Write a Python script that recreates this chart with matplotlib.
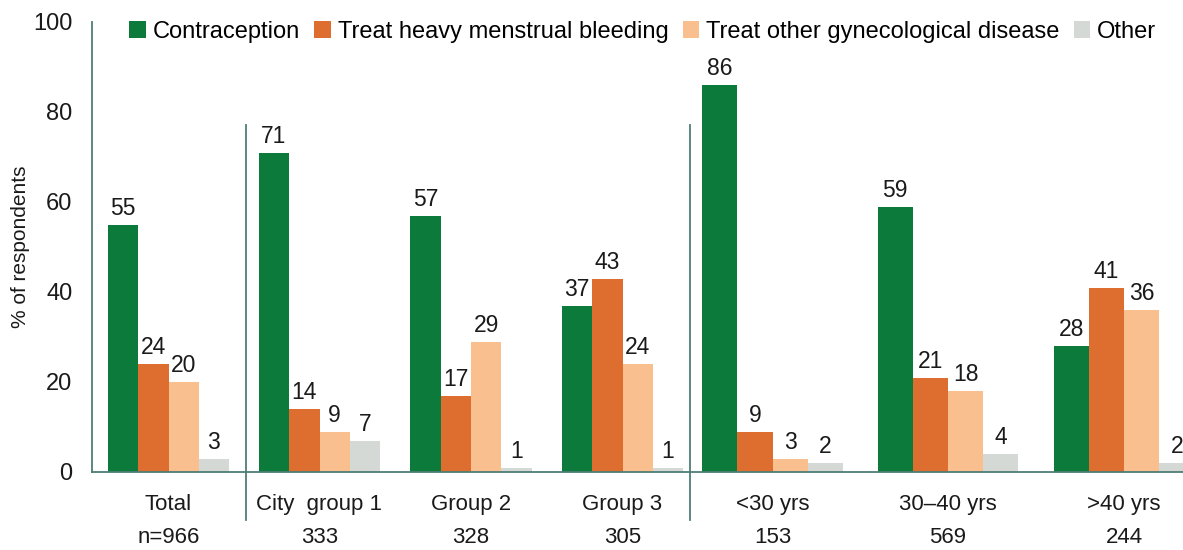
import numpy as np
import matplotlib.pyplot as plt
from matplotlib.patches import Patch

plt.rcParams['font.family'] = ['Liberation Sans', 'DejaVu Sans']

# data
groups = ["Total", "City  group 1", "Group 2", "Group 3", "<30 yrs", "30\u201340 yrs", ">40 yrs"]
counts = ["n=966", "333", "328", "305", "153", "569", "244"]
series = ["Contraception", "Treat heavy menstrual bleeding",
          "Treat other gynecological disease", "Other"]
contraception = [55, 71, 57, 37, 86, 59, 28]
heavy_bleeding = [24, 14, 17, 43, 9, 21, 41]
other_gyn = [20, 9, 29, 24, 3, 18, 36]
other = [3, 7, 1, 1, 2, 4, 2]
values = [contraception, heavy_bleeding, other_gyn, other]

# layout (pixel-like x units)
centers = [168.5, 319.5, 471, 622.5, 772.5, 948, 1124]
widths = [30.3, 30.3, 30.3, 30.3, 35.2, 35.2, 35.2]
colors = ["#0b7a3b", "#de6e2f", "#f9bf8e", "#d4d9d5"]
axis_col = "#4e7d76"
txt = "#1a1a1a"

W, H = 1183, 550
fig = plt.figure(figsize=(W / 100, H / 100), dpi=100)
ax = fig.add_axes([92 / W, (H - 472) / H, (W - 92) / W, (472 - 22) / H])

for s in range(4):
    for g in range(len(groups)):
        w = widths[g]
        x = centers[g] + (s - 1.5) * w
        v = values[s][g]
        ax.bar(x, v, width=w, color=colors[s], edgecolor="none")
        ax.annotate(str(v), (x, v), xytext=(0, 3.5), textcoords="offset points",
                    ha="center", va="bottom", fontsize=16.5, color=txt,
                    annotation_clip=False)

for g in range(len(groups)):
    ax.text(centers[g], -7.3, groups[g], ha="center", va="center", fontsize=16, color=txt)
    ax.text(centers[g], -14.5, counts[g], ha="center", va="center", fontsize=16, color=txt)

for xs in [246, 690]:
    ax.plot([xs, xs], [77.1, -10.7], color=axis_col, lw=1.3, clip_on=False)

ax.set_xlim(92, W)
ax.set_ylim(0, 100)
ax.set_yticks([0, 20, 40, 60, 80, 100])
ax.set_xticks([])
ax.tick_params(axis="y", length=0, pad=14, labelsize=17, labelcolor=txt)
ax.set_ylabel("% of respondents", fontsize=15, color=txt)
ax.yaxis.set_label_coords(-0.057, 0.5)
for sp in ["top", "right"]:
    ax.spines[sp].set_visible(False)
for sp in ["left", "bottom"]:
    ax.spines[sp].set_color(axis_col)
    ax.spines[sp].set_linewidth(1.3)

handles = [Patch(facecolor=c, edgecolor="none") for c in colors]
fig.legend(handles, series, loc="center left", bbox_to_anchor=(129 / W, 1 - 32 / H),
           ncol=4, frameon=False, fontsize=17, handlelength=0.7, handleheight=0.7,
           handletextpad=0.3, columnspacing=0.6, borderpad=0, borderaxespad=0)

fig.savefig("out.png", dpi=100)
